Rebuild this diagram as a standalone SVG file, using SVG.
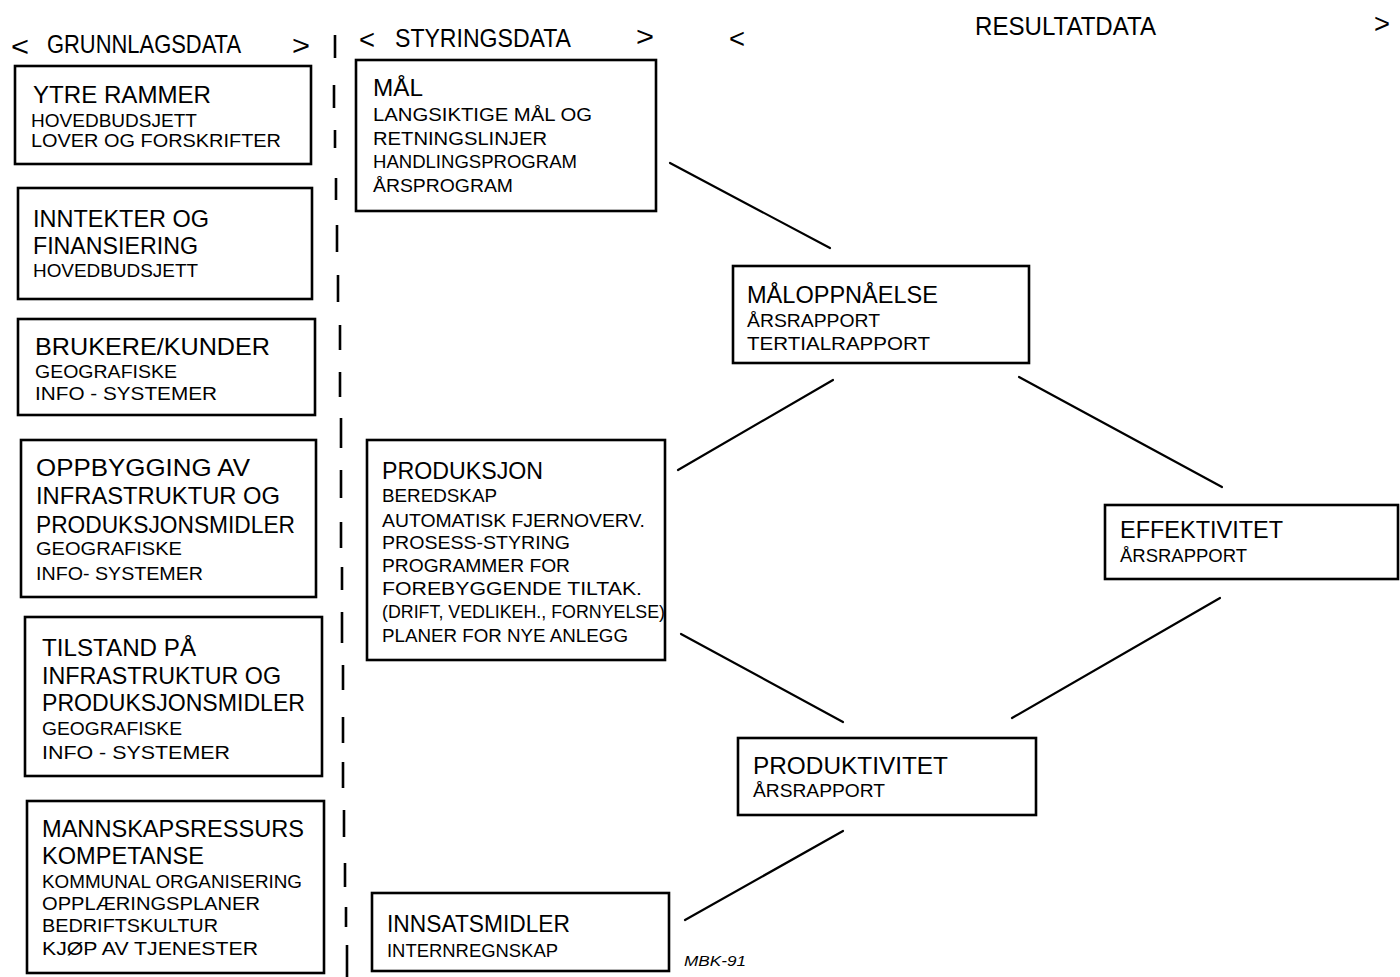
<svg xmlns="http://www.w3.org/2000/svg" width="1400" height="977" viewBox="0 0 1400 977">
  <style>
    .box { fill: #fff; stroke: #000; stroke-width: 2.6; }
    .t { font-family: "Liberation Sans", Arial, sans-serif; font-size: 24px; fill: #000; }
    .s { font-family: "Liberation Sans", Arial, sans-serif; font-size: 18px; fill: #000; }
    .h { font-family: "Liberation Sans", Arial, sans-serif; font-size: 25px; fill: #000; }
    .br { font-family: "Liberation Sans", Arial, sans-serif; font-size: 28px; fill: #000; }
    .sig { font-family: "Liberation Sans", Arial, sans-serif; font-size: 14px; font-style: italic; fill: #000; }
    .link { stroke: #000; stroke-width: 2.2; fill: none; stroke-linecap: round; }
    .divider { stroke: #000; stroke-width: 2.6; fill: none; }
  </style>
  <rect width="1400" height="977" fill="#fff"/>

  <!-- column headings -->
  <g id="headings">
    <text class="br" x="11" y="56" textLength="18" lengthAdjust="spacingAndGlyphs">&lt;</text>
    <text class="h" x="47" y="53" textLength="194" lengthAdjust="spacingAndGlyphs">GRUNNLAGSDATA</text>
    <text class="br" x="292" y="55" textLength="18" lengthAdjust="spacingAndGlyphs">&gt;</text>
    <text class="br" x="359" y="49" textLength="16" lengthAdjust="spacingAndGlyphs">&lt;</text>
    <text class="h" x="395" y="47" textLength="176" lengthAdjust="spacingAndGlyphs">STYRINGSDATA</text>
    <text class="br" x="636" y="46" textLength="18" lengthAdjust="spacingAndGlyphs">&gt;</text>
    <text class="br" x="729" y="48" textLength="16" lengthAdjust="spacingAndGlyphs">&lt;</text>
    <text class="h" x="975" y="35" textLength="181" lengthAdjust="spacingAndGlyphs">RESULTATDATA</text>
    <text class="br" x="1374" y="33" textLength="16" lengthAdjust="spacingAndGlyphs">&gt;</text>
  </g>

  <!-- hand-drawn dashed divider between the basis and control columns -->
  <path class="divider" d="M335 35 V58 M334 85 V108 M335 130 V148 M336 178 V200 M337 225 V252 M338 275 V302 M340 325 V350 M340 372 V397 M341 418 V448 M341 470 V498 M341 522 V548 M342 567 V590 M342 612 V643 M343 665 V690 M343 717 V743 M343 762 V788 M344 810 V837 M345 863 V887 M346 907 V927 M347 945 V977"/>

  <!-- connectors -->
  <g id="connectors">
    <line class="link" x1="670" y1="163" x2="830" y2="248"/>
    <line class="link" x1="678" y1="470" x2="833" y2="380"/>
    <line class="link" x1="1019" y1="377" x2="1222" y2="487"/>
    <line class="link" x1="1220" y1="598" x2="1012" y2="718"/>
    <line class="link" x1="681" y1="634" x2="843" y2="722"/>
    <line class="link" x1="685" y1="920" x2="843" y2="831"/>
  </g>

  <!-- basis data column -->
  <g id="ytre-rammer">
    <rect class="box" x="15" y="66" width="296" height="98"/>
    <text class="t" x="33" y="103" textLength="178" lengthAdjust="spacingAndGlyphs">YTRE RAMMER</text>
    <text class="s" x="31" y="127" textLength="166" lengthAdjust="spacingAndGlyphs">HOVEDBUDSJETT</text>
    <text class="s" x="31" y="147" textLength="250" lengthAdjust="spacingAndGlyphs">LOVER OG FORSKRIFTER</text>
  </g>

  <g id="inntekter">
    <rect class="box" x="18" y="188" width="294" height="111"/>
    <text class="t" x="33" y="227" textLength="176" lengthAdjust="spacingAndGlyphs">INNTEKTER OG</text>
    <text class="t" x="33" y="254" textLength="165" lengthAdjust="spacingAndGlyphs">FINANSIERING</text>
    <text class="s" x="33" y="277" textLength="165" lengthAdjust="spacingAndGlyphs">HOVEDBUDSJETT</text>
  </g>

  <g id="brukere">
    <rect class="box" x="18" y="319" width="297" height="96"/>
    <text class="t" x="35" y="355" textLength="235" lengthAdjust="spacingAndGlyphs">BRUKERE/KUNDER</text>
    <text class="s" x="35" y="378" textLength="142" lengthAdjust="spacingAndGlyphs">GEOGRAFISKE</text>
    <text class="s" x="35" y="400" textLength="182" lengthAdjust="spacingAndGlyphs">INFO - SYSTEMER</text>
  </g>

  <g id="oppbygging">
    <rect class="box" x="21" y="440" width="295" height="157"/>
    <text class="t" x="36" y="476" textLength="214" lengthAdjust="spacingAndGlyphs">OPPBYGGING AV</text>
    <text class="t" x="36" y="504" textLength="244" lengthAdjust="spacingAndGlyphs">INFRASTRUKTUR OG</text>
    <text class="t" x="36" y="533" textLength="259" lengthAdjust="spacingAndGlyphs">PRODUKSJONSMIDLER</text>
    <text class="s" x="36" y="555" textLength="146" lengthAdjust="spacingAndGlyphs">GEOGRAFISKE</text>
    <text class="s" x="36" y="580" textLength="167" lengthAdjust="spacingAndGlyphs">INFO- SYSTEMER</text>
  </g>

  <g id="tilstand">
    <rect class="box" x="25" y="617" width="297" height="159"/>
    <text class="t" x="42" y="656" textLength="154" lengthAdjust="spacingAndGlyphs">TILSTAND PÅ</text>
    <text class="t" x="42" y="684" textLength="239" lengthAdjust="spacingAndGlyphs">INFRASTRUKTUR OG</text>
    <text class="t" x="42" y="711" textLength="263" lengthAdjust="spacingAndGlyphs">PRODUKSJONSMIDLER</text>
    <text class="s" x="42" y="735" textLength="140" lengthAdjust="spacingAndGlyphs">GEOGRAFISKE</text>
    <text class="s" x="42" y="759" textLength="188" lengthAdjust="spacingAndGlyphs">INFO - SYSTEMER</text>
  </g>

  <g id="mannskap">
    <rect class="box" x="27" y="801" width="297" height="172"/>
    <text class="t" x="42" y="837" textLength="262" lengthAdjust="spacingAndGlyphs">MANNSKAPSRESSURS</text>
    <text class="t" x="42" y="864" textLength="162" lengthAdjust="spacingAndGlyphs">KOMPETANSE</text>
    <text class="s" x="42" y="888" textLength="260" lengthAdjust="spacingAndGlyphs">KOMMUNAL ORGANISERING</text>
    <text class="s" x="42" y="910" textLength="218" lengthAdjust="spacingAndGlyphs">OPPLÆRINGSPLANER</text>
    <text class="s" x="42" y="932" textLength="176" lengthAdjust="spacingAndGlyphs">BEDRIFTSKULTUR</text>
    <text class="s" x="42" y="955" textLength="216" lengthAdjust="spacingAndGlyphs">KJØP AV TJENESTER</text>
  </g>

  <!-- control data column -->
  <g id="maal">
    <rect class="box" x="356" y="60" width="300" height="151"/>
    <text class="t" x="373" y="96" textLength="50" lengthAdjust="spacingAndGlyphs">MÅL</text>
    <text class="s" x="373" y="121" textLength="219" lengthAdjust="spacingAndGlyphs">LANGSIKTIGE MÅL OG</text>
    <text class="s" x="373" y="145" textLength="174" lengthAdjust="spacingAndGlyphs">RETNINGSLINJER</text>
    <text class="s" x="373" y="168" textLength="204" lengthAdjust="spacingAndGlyphs">HANDLINGSPROGRAM</text>
    <text class="s" x="373" y="192" textLength="140" lengthAdjust="spacingAndGlyphs">ÅRSPROGRAM</text>
  </g>

  <g id="produksjon">
    <rect class="box" x="367" y="440" width="298" height="220"/>
    <text class="t" x="382" y="479" textLength="161" lengthAdjust="spacingAndGlyphs">PRODUKSJON</text>
    <text class="s" x="382" y="502" textLength="115" lengthAdjust="spacingAndGlyphs">BEREDSKAP</text>
    <text class="s" x="382" y="527" textLength="263" lengthAdjust="spacingAndGlyphs">AUTOMATISK FJERNOVERV.</text>
    <text class="s" x="382" y="549" textLength="188" lengthAdjust="spacingAndGlyphs">PROSESS-STYRING</text>
    <text class="s" x="382" y="572" textLength="188" lengthAdjust="spacingAndGlyphs">PROGRAMMER FOR</text>
    <text class="s" x="382" y="595" textLength="260" lengthAdjust="spacingAndGlyphs">FOREBYGGENDE TILTAK.</text>
    <text class="s" x="382" y="618" textLength="283" lengthAdjust="spacingAndGlyphs">(DRIFT, VEDLIKEH., FORNYELSE)</text>
    <text class="s" x="382" y="642" textLength="246" lengthAdjust="spacingAndGlyphs">PLANER FOR NYE ANLEGG</text>
  </g>

  <g id="innsatsmidler">
    <rect class="box" x="372" y="893" width="297" height="78"/>
    <text class="t" x="387" y="932" textLength="183" lengthAdjust="spacingAndGlyphs">INNSATSMIDLER</text>
    <text class="s" x="387" y="957" textLength="171" lengthAdjust="spacingAndGlyphs">INTERNREGNSKAP</text>
  </g>

  <!-- result data column -->
  <g id="maaloppnaaelse">
    <rect class="box" x="733" y="266" width="296" height="97"/>
    <text class="t" x="747" y="303" textLength="191" lengthAdjust="spacingAndGlyphs">MÅLOPPNÅELSE</text>
    <text class="s" x="747" y="327" textLength="133" lengthAdjust="spacingAndGlyphs">ÅRSRAPPORT</text>
    <text class="s" x="747" y="350" textLength="183" lengthAdjust="spacingAndGlyphs">TERTIALRAPPORT</text>
  </g>

  <g id="effektivitet">
    <rect class="box" x="1105" y="505" width="293" height="74"/>
    <text class="t" x="1120" y="538" textLength="163" lengthAdjust="spacingAndGlyphs">EFFEKTIVITET</text>
    <text class="s" x="1120" y="562" textLength="127" lengthAdjust="spacingAndGlyphs">ÅRSRAPPORT</text>
  </g>

  <g id="produktivitet">
    <rect class="box" x="738" y="738" width="298" height="77"/>
    <text class="t" x="753" y="774" textLength="195" lengthAdjust="spacingAndGlyphs">PRODUKTIVITET</text>
    <text class="s" x="753" y="797" textLength="132" lengthAdjust="spacingAndGlyphs">ÅRSRAPPORT</text>
  </g>

  <!-- author's mark -->
  <text class="sig" x="684" y="966" textLength="62" lengthAdjust="spacingAndGlyphs">MBK-91</text>
</svg>
